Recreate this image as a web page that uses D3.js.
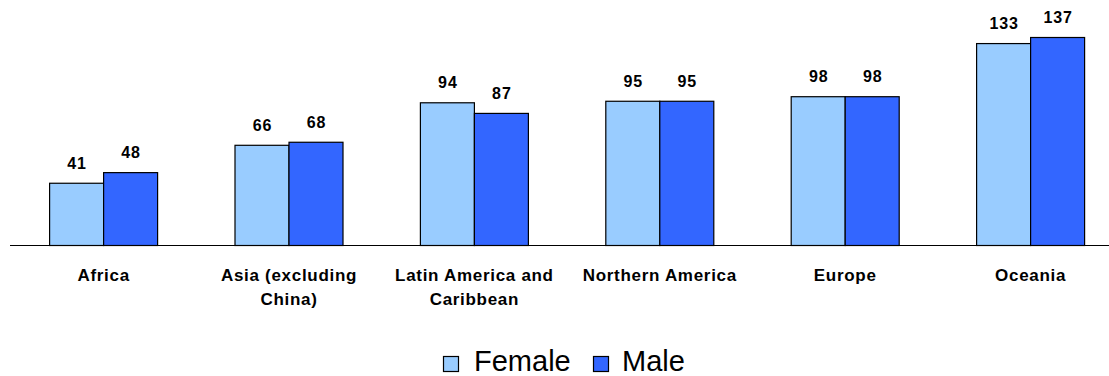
<!DOCTYPE html>
<html>
<head>
<meta charset="utf-8">
<script src="https://cdn.jsdelivr.net/npm/d3@7"></script>
<style>
  html, body { margin: 0; padding: 0; background: #fff; }
  svg { display: block; }
</style>
</head>
<body>
<svg id="chart" width="1109" height="376"></svg>
<script>
// Regions and their female / male values
const categories = [
  ["Africa"],
  ["Asia (excluding", "China)"],
  ["Latin America and", "Caribbean"],
  ["Northern America"],
  ["Europe"],
  ["Oceania"]
];
const series = ["Female", "Male"];
const femaleValues = [41, 66, 94, 95, 98, 133];
const maleValues = [48, 68, 87, 95, 98, 137];
const colors = ["#99CCFF", "#3366FF"];

const svg = d3.select("#chart");
const baseY = 245;
const font = "'Liberation Sans', Arial, sans-serif";

const x = d3.scaleBand()
  .domain(d3.range(categories.length))
  .range([10.4, 10.4 + 185.4 * categories.length])
  .paddingInner(0).paddingOuter(0);

const barW = 54;
const xs = d3.scaleBand().domain(series).range([x.bandwidth() / 2 - barW, x.bandwidth() / 2 + barW]);

const y = d3.scaleLinear().domain([0, 137]).range([baseY, baseY - 208]);

const data = categories.map((c, i) => ({
  i, label: c,
  vals: [femaleValues[i], maleValues[i]]
}));

const g = svg.selectAll("g.cat").data(data).join("g")
  .attr("class", "cat")
  .attr("transform", d => `translate(${x(d.i)},0)`);

g.selectAll("rect").data(d => d.vals.map((v, k) => ({ v, k })))
  .join("rect")
  .attr("x", d => xs(series[d.k]) + 0.5)
  .attr("y", d => y(d.v) + 0.5)
  .attr("width", barW)
  .attr("height", d => baseY - y(d.v))
  .attr("fill", d => colors[d.k])
  .attr("stroke", "#000")
  .attr("stroke-width", 1.2);

g.selectAll("text.val").data(d => d.vals.map((v, k) => ({ v, k })))
  .join("text")
  .attr("class", "val")
  .attr("x", d => xs(series[d.k]) + barW / 2 + 1)
  .attr("y", d => y(d.v) - 14)
  .attr("text-anchor", "middle")
  .attr("font-family", font)
  .attr("font-weight", "bold")
  .attr("font-size", 16)
  .attr("letter-spacing", 0.9)
  .text(d => d.v);

// Baseline axis
svg.append("line")
  .attr("x1", 10).attr("x2", 1109)
  .attr("y1", baseY + 0.5).attr("y2", baseY + 0.5)
  .attr("stroke", "#000").attr("stroke-width", 1.2);

// Category labels
g.append("text")
  .attr("text-anchor", "middle")
  .attr("font-family", font)
  .attr("font-weight", "bold")
  .attr("font-size", 17)
  .attr("letter-spacing", 0.7)
  .selectAll("tspan").data(d => d.label).join("tspan")
  .attr("x", x.bandwidth() / 2 + 0.5)
  .attr("y", (d, j) => 281 + j * 24)
  .text(d => d);

// Legend
const legend = svg.append("g").attr("font-family", font).attr("font-size", 29);
const items = [
  { name: "Female", sx: 443.5, tx: 474 },
  { name: "Male", sx: 593.5, tx: 622 }
];
items.forEach((it, k) => {
  legend.append("rect")
    .attr("x", it.sx).attr("y", 356.5)
    .attr("width", 15).attr("height", 15)
    .attr("fill", colors[k]).attr("stroke", "#000").attr("stroke-width", 1.2);
  legend.append("text")
    .attr("x", it.tx).attr("y", 371)
    .text(it.name);
});
</script>
</body>
</html>
